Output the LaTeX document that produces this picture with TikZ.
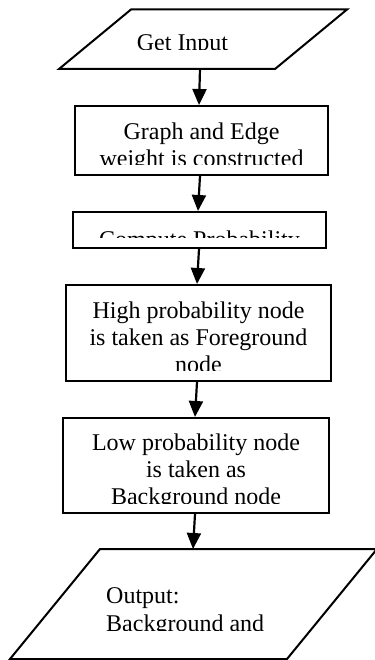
\documentclass[tikz,border=0pt]{standalone}
\usepackage{fontspec}
\setmainfont{Liberation Serif}
\usetikzlibrary{arrows.meta}
\tikzset{
  box/.style={draw=black, line width=2bp, fill=white, inner sep=0pt, minimum width=#1},
  io/.style={draw=black, line width=2bp, line join=miter},
  txt/.style={inner sep=0pt, anchor=base, font=\fontsize{24bp}{27bp}\selectfont},
  ltxt/.style={inner sep=0pt, anchor=base west, font=\fontsize{24bp}{27bp}\selectfont},
  arr/.style={line width=2.2bp, -{Triangle[width=14bp,length=16bp]}}
}
\begin{document}
\begin{tikzpicture}[x=1bp, y=-1bp]
\useasboundingbox (0,0) rectangle (374,660);
\fill[white] (0,0) rectangle (374,660);

% input parallelogram
\coordinate (inTL) at (131,9.5);
\coordinate (inTR) at (347,9.5);
\coordinate (inBR) at (275,69);
\coordinate (inBL) at (59,69);
\coordinate (inB) at (200,69);
\draw[io] (inTL) -- (inTR) -- (inBR) -- (inBL) -- cycle;
\begin{scope}
  \clip (100,12) rectangle (300,49.5);
  \node[txt] (tin) at (182.5,51) {Get Input};
\end{scope}

% box 2
\node[box=253bp, minimum height=69bp] (b2) at (201.5,140.5) {};
\begin{scope}
  \clip (77,108) rectangle (326,164.5);
  \node[txt] (t2a) at (201.5,139) {Graph and Edge};
  \node[txt] (t2b) at (201.5,166) {weight is constructed};
\end{scope}

% box 3
\node[box=253bp, minimum height=36bp] (b3) at (199.5,230) {};
\begin{scope}
  \clip (75,214) rectangle (324,237);
  \node[txt] (t3) at (199.5,247) {Compute Probability};
\end{scope}

% box 4
\node[box=265bp, minimum height=96bp] (b4) at (198.5,333) {};
\begin{scope}
  \clip (68,287) rectangle (329,370);
  \node[txt] (t4a) at (198.5,318) {High probability node};
  \node[txt] (t4b) at (198.5,345) {is taken as Foreground};
  \node[txt] (t4c) at (198.5,372) {node};
\end{scope}

% box 5
\node[box=266bp, minimum height=95bp] (b5) at (196,465.5) {};
\begin{scope}
  \clip (65,420) rectangle (327,503);
  \node[txt] (t5a) at (196,450) {Low probability node};
  \node[txt] (t5b) at (196,477) {is taken as};
  \node[txt] (t5c) at (196,504) {Background node};
\end{scope}

% output parallelogram
\coordinate (outTL) at (100,549);
\coordinate (outTR) at (377,549);
\coordinate (outBR) at (287,659);
\coordinate (outBL) at (10,659);
\coordinate (outT) at (193,549);
\draw[io] (outTL) -- (outTR) -- (outBR) -- (outBL) -- cycle;
\begin{scope}
  \clip (60,560) rectangle (330,630);
  \node[ltxt] (t6a) at (106,603) {Output:};
  \node[ltxt] (t6b) at (106,631) {Background and};
\end{scope}

% arrows
\draw[arr] (inB) -- ([xshift=-2.5bp]b2.north);
\draw[arr] ([xshift=-1.5bp]b2.south) -- ([xshift=-1.5bp]b3.north);
\draw[arr] ([xshift=-0.5bp]b3.south) -- ([xshift=-1.5bp]b4.north);
\draw[arr] ([xshift=-1.5bp]b4.south) -- ([xshift=-1bp]b5.north);
\draw[arr] ([xshift=-1bp]b5.south) -- (outT);
\end{tikzpicture}
\end{document}
